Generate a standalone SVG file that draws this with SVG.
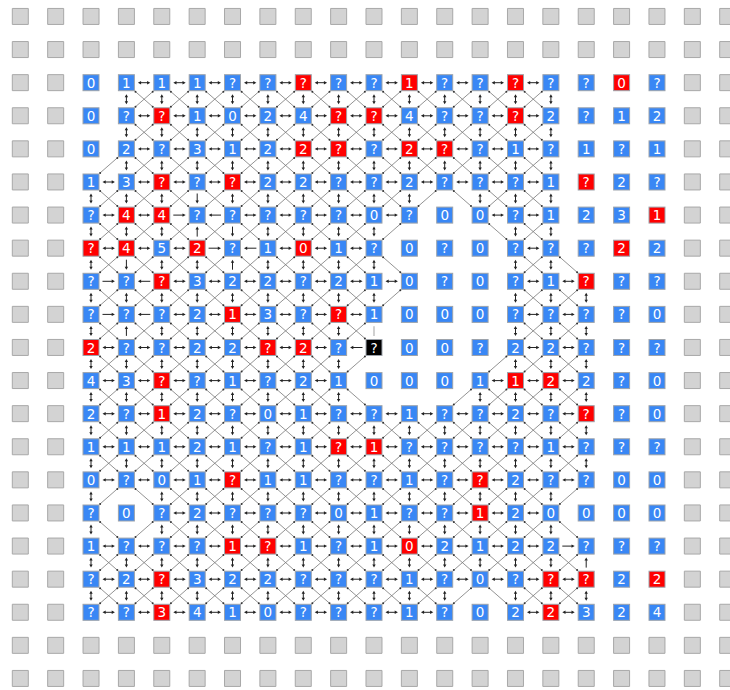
<svg xmlns="http://www.w3.org/2000/svg" xmlns:xlink="http://www.w3.org/1999/xlink" width="730" height="690" viewBox="0 0 730 690">
<style>
.gb{fill:#d3d3d3;stroke:#a8a8a8;stroke-width:1}
#nodes use{fill:#3987f5;stroke:#9da3ab;stroke-width:1}
#nodes .r use{fill:#ff0000}
#nodes .k use{fill:#000000}
text{font-family:"DejaVu Sans","Liberation Sans",sans-serif;font-size:13.5px;fill:#ffffff;text-anchor:middle;dominant-baseline:central}
#edges polyline{fill:none;stroke:none}
.H{marker-start:url(#mh);marker-mid:url(#mh);marker-end:url(#mh)}
.R{marker-start:url(#mr);marker-mid:url(#mr);marker-end:url(#mr)}
.L{marker-start:url(#ml);marker-mid:url(#ml);marker-end:url(#ml)}
.V{marker-start:url(#mv);marker-mid:url(#mv);marker-end:url(#mv)}
.U{marker-start:url(#mu);marker-mid:url(#mu);marker-end:url(#mu)}
.D{marker-start:url(#md);marker-mid:url(#md);marker-end:url(#md)}
.X{marker-start:url(#mx);marker-mid:url(#mx);marker-end:url(#mx)}
.B{marker-start:url(#mb);marker-mid:url(#mb);marker-end:url(#mb)}
.F{marker-start:url(#mf);marker-mid:url(#mf);marker-end:url(#mf)}
.ah{fill:#222}
.as{stroke:#222;stroke-width:1;fill:none}
.dl{stroke:#777;stroke-width:0.8;fill:none}
.dd{fill:#333}
</style>
<defs>
<rect id="bx" x="-8" y="-8" width="16" height="16"/>
<path id="grow" d="M0 0h16v16H0z m35.37 0h16v16h-16z m35.37 0h16v16h-16z m35.37 0h16v16h-16z m35.37 0h16v16h-16z m35.37 0h16v16h-16z m35.37 0h16v16h-16z m35.37 0h16v16h-16z m35.37 0h16v16h-16z m35.37 0h16v16h-16z m35.37 0h16v16h-16z m35.37 0h16v16h-16z m35.37 0h16v16h-16z m35.37 0h16v16h-16z m35.37 0h16v16h-16z m35.37 0h16v16h-16z m35.37 0h16v16h-16z m35.37 0h16v16h-16z m35.37 0h16v16h-16z m35.37 0h16v16h-16z m35.37 0h16v16h-16z"/>
<path id="gcol" d="M0 0h16v16H0z m0 33.1h16v16h-16z m0 33.1h16v16h-16z m0 33.1h16v16h-16z m0 33.1h16v16h-16z m0 33.1h16v16h-16z m0 33.1h16v16h-16z m0 33.1h16v16h-16z m0 33.1h16v16h-16z m0 33.1h16v16h-16z m0 33.1h16v16h-16z m0 33.1h16v16h-16z m0 33.1h16v16h-16z m0 33.1h16v16h-16z m0 33.1h16v16h-16z m0 33.1h16v16h-16z m0 33.1h16v16h-16z"/>
<marker id="mh" markerUnits="userSpaceOnUse" markerWidth="24" markerHeight="24" refX="12" refY="12" orient="0" overflow="visible"><g transform="translate(12 12)"><path class="as" d="M-4 0H4"/><path class="ah" d="M-6.2 0l3.2-1.7v3.4zM6.2 0l-3.2-1.7v3.4z"/></g></marker>
<marker id="mr" markerUnits="userSpaceOnUse" markerWidth="24" markerHeight="24" refX="12" refY="12" orient="0" overflow="visible"><g transform="translate(12 12)"><path class="as" d="M-6.2 0H4"/><path class="ah" d="M6.2 0l-3.2-1.7v3.4z"/></g></marker>
<marker id="ml" markerUnits="userSpaceOnUse" markerWidth="24" markerHeight="24" refX="12" refY="12" orient="0" overflow="visible"><g transform="translate(12 12)"><path class="as" d="M-4 0H6.2"/><path class="ah" d="M-6.2 0l3.2-1.7v3.4z"/></g></marker>
<marker id="mv" markerUnits="userSpaceOnUse" markerWidth="24" markerHeight="24" refX="12" refY="12" orient="0" overflow="visible"><g transform="translate(12 12)"><path class="as" d="M0-3V3"/><path class="ah" d="M0-5l-1.7 3h3.4zM0 5l-1.7-3h3.4z"/></g></marker>
<marker id="mu" markerUnits="userSpaceOnUse" markerWidth="24" markerHeight="24" refX="12" refY="12" orient="0" overflow="visible"><g transform="translate(12 12)"><path class="as" d="M0-3V5"/><path class="ah" d="M0-5l-1.7 3h3.4z"/></g></marker>
<marker id="md" markerUnits="userSpaceOnUse" markerWidth="24" markerHeight="24" refX="12" refY="12" orient="0" overflow="visible"><g transform="translate(12 12)"><path class="as" d="M0-5V3"/><path class="ah" d="M0 5l-1.7-3h3.4z"/></g></marker>
<marker id="mx" markerUnits="userSpaceOnUse" markerWidth="24" markerHeight="24" refX="12" refY="12" orient="0" overflow="visible"><g transform="translate(12 12)"><path class="dl" d="M-9.2-8.05L9.2 8.05M9.2-8.05L-9.2 8.05"/><circle class="dd" cx="-8.6" cy="-7.5" r="1"/><circle class="dd" cx="8.6" cy="7.5" r="1"/><circle class="dd" cx="8.6" cy="-7.5" r="1"/><circle class="dd" cx="-8.6" cy="7.5" r="1"/></g></marker>
<marker id="mb" markerUnits="userSpaceOnUse" markerWidth="24" markerHeight="24" refX="12" refY="12" orient="0" overflow="visible"><g transform="translate(12 12)"><path class="dl" d="M-9.2-8.05L9.2 8.05"/><circle class="dd" cx="-8.6" cy="-7.5" r="1"/><circle class="dd" cx="8.6" cy="7.5" r="1"/></g></marker>
<marker id="mf" markerUnits="userSpaceOnUse" markerWidth="24" markerHeight="24" refX="12" refY="12" orient="0" overflow="visible"><g transform="translate(12 12)"><path class="dl" d="M9.2-8.05L-9.2 8.05"/><circle class="dd" cx="8.6" cy="-7.5" r="1"/><circle class="dd" cx="-8.6" cy="7.5" r="1"/></g></marker>
</defs>
<rect width="730" height="690" fill="#ffffff"/>
<g id="border" class="gb">
<use href="#grow" x="12.3" y="8.45"/>
<use href="#grow" x="12.3" y="41.55"/>
<use href="#grow" x="12.3" y="637.35"/>
<use href="#grow" x="12.3" y="670.45"/>
<use href="#gcol" x="12.3" y="74.65"/>
<use href="#gcol" x="47.67" y="74.65"/>
<use href="#gcol" x="684.33" y="74.65"/>
<use href="#gcol" x="719.7" y="74.65"/>
</g>
<g id="edges">
<polyline class="H" transform="translate(0 82.7)" points="144.1,0 179.5,0 214.8,0 250.2,0 285.6,0 320.9,0 356.3,0 391.7,0 427.1,0 462.4,0 497.8,0 533.2,0"/>
<polyline class="H" transform="translate(0 115.8)" points="144.1,0 179.5,0 214.8,0 250.2,0 285.6,0 320.9,0 356.3,0 391.7,0 427.1,0 462.4,0 497.8,0 533.2,0"/>
<polyline class="H" transform="translate(0 148.9)" points="144.1,0 179.5,0 214.8,0 250.2,0 285.6,0 320.9,0 356.3,0 391.7,0 427.1,0 462.4,0 497.8,0 533.2,0"/>
<polyline class="H" transform="translate(0 182)" points="108.7,0 144.1,0 179.5,0 214.8,0 250.2,0 285.6,0 320.9,0 356.3,0 391.7,0 427.1,0 462.4,0 497.8,0 533.2,0"/>
<polyline class="H" transform="translate(0 215.1)" points="108.7,0 144.1,0 250.2,0 285.6,0 320.9,0 356.3,0 391.7,0 497.8,0 533.2,0"/>
<polyline class="H" transform="translate(0 248.2)" points="108.7,0 144.1,0 179.5,0 285.6,0 320.9,0 356.3,0 533.2,0"/>
<polyline class="H" transform="translate(0 281.3)" points="179.5,0 214.8,0 250.2,0 285.6,0 320.9,0 356.3,0 391.7,0 533.2,0 568.5,0"/>
<polyline class="H" transform="translate(0 314.4)" points="179.5,0 214.8,0 250.2,0 285.6,0 320.9,0 356.3,0 533.2,0 568.5,0"/>
<polyline class="H" transform="translate(0 347.5)" points="108.7,0 144.1,0 179.5,0 214.8,0 250.2,0 285.6,0 320.9,0 533.2,0 568.5,0"/>
<polyline class="H" transform="translate(0 380.6)" points="108.7,0 144.1,0 179.5,0 214.8,0 250.2,0 285.6,0 320.9,0 497.8,0 533.2,0 568.5,0"/>
<polyline class="H" transform="translate(0 413.7)" points="108.7,0 144.1,0 179.5,0 214.8,0 250.2,0 285.6,0 320.9,0 356.3,0 391.7,0 427.1,0 462.4,0 497.8,0 533.2,0 568.5,0"/>
<polyline class="H" transform="translate(0 446.8)" points="108.7,0 144.1,0 179.5,0 214.8,0 250.2,0 285.6,0 320.9,0 356.3,0 391.7,0 427.1,0 462.4,0 497.8,0 533.2,0 568.5,0"/>
<polyline class="H" transform="translate(0 479.9)" points="108.7,0 144.1,0 179.5,0 214.8,0 250.2,0 285.6,0 320.9,0 356.3,0 391.7,0 427.1,0 462.4,0 497.8,0 533.2,0 568.5,0"/>
<polyline class="H" transform="translate(0 513)" points="179.5,0 214.8,0 250.2,0 285.6,0 320.9,0 356.3,0 391.7,0 427.1,0 462.4,0 497.8,0 533.2,0"/>
<polyline class="H" transform="translate(0 546.1)" points="108.7,0 144.1,0 179.5,0 214.8,0 250.2,0 285.6,0 320.9,0 356.3,0 391.7,0 427.1,0 462.4,0 497.8,0 533.2,0"/>
<polyline class="H" transform="translate(0 579.2)" points="108.7,0 144.1,0 179.5,0 214.8,0 250.2,0 285.6,0 320.9,0 356.3,0 391.7,0 427.1,0 462.4,0 497.8,0 533.2,0 568.5,0"/>
<polyline class="H" transform="translate(0 612.3)" points="108.7,0 144.1,0 179.5,0 214.8,0 250.2,0 285.6,0 320.9,0 356.3,0 391.7,0 427.1,0 533.2,0 568.5,0"/>
<polyline class="R" points="179.5,215.1 214.8,248.2 108.7,281.3 108.7,314.4 568.5,546.1"/>
<polyline class="L" points="214.8,215.1 250.2,248.2 144.1,281.3 144.1,314.4 356.3,347.5"/>
<polyline class="V" transform="translate(0 99.2)" points="126.4,0 161.8,0 197.2,0 232.5,0 267.9,0 303.3,0 338.6,0 374,0 409.4,0 444.7,0 480.1,0 515.5,0 550.9,0"/>
<polyline class="V" transform="translate(0 132.3)" points="126.4,0 161.8,0 197.2,0 232.5,0 267.9,0 303.3,0 338.6,0 374,0 409.4,0 444.7,0 480.1,0 515.5,0 550.9,0"/>
<polyline class="V" transform="translate(0 165.4)" points="126.4,0 161.8,0 197.2,0 232.5,0 267.9,0 303.3,0 338.6,0 374,0 409.4,0 444.7,0 480.1,0 515.5,0 550.9,0"/>
<polyline class="V" transform="translate(0 198.5)" points="91,0 126.4,0 161.8,0 232.5,0 267.9,0 303.3,0 338.6,0 374,0 409.4,0 480.1,0 515.5,0 550.9,0"/>
<polyline class="V" transform="translate(0 231.6)" points="91,0 126.4,0 161.8,0 267.9,0 303.3,0 338.6,0 374,0 515.5,0 550.9,0"/>
<polyline class="V" transform="translate(0 264.7)" points="91,0 161.8,0 197.2,0 267.9,0 303.3,0 338.6,0 374,0 515.5,0 550.9,0"/>
<polyline class="V" transform="translate(0 297.8)" points="91,0 126.4,0 161.8,0 197.2,0 232.5,0 267.9,0 303.3,0 338.6,0 374,0 515.5,0 550.9,0 586.2,0"/>
<polyline class="V" transform="translate(0 330.9)" points="91,0 161.8,0 197.2,0 232.5,0 267.9,0 303.3,0 338.6,0 515.5,0 550.9,0 586.2,0"/>
<polyline class="V" transform="translate(0 364)" points="91,0 126.4,0 161.8,0 197.2,0 232.5,0 267.9,0 303.3,0 338.6,0 515.5,0 550.9,0 586.2,0"/>
<polyline class="V" transform="translate(0 397.1)" points="91,0 126.4,0 161.8,0 197.2,0 232.5,0 267.9,0 303.3,0 338.6,0 480.1,0 515.5,0 550.9,0 586.2,0"/>
<polyline class="V" transform="translate(0 430.2)" points="91,0 126.4,0 161.8,0 197.2,0 232.5,0 267.9,0 303.3,0 338.6,0 374,0 409.4,0 444.7,0 480.1,0 515.5,0 550.9,0 586.2,0"/>
<polyline class="V" transform="translate(0 463.3)" points="91,0 126.4,0 161.8,0 197.2,0 232.5,0 267.9,0 303.3,0 338.6,0 374,0 409.4,0 444.7,0 480.1,0 515.5,0 550.9,0 586.2,0"/>
<polyline class="V" transform="translate(0 496.4)" points="91,0 161.8,0 197.2,0 232.5,0 267.9,0 303.3,0 338.6,0 374,0 409.4,0 444.7,0 480.1,0 515.5,0 550.9,0"/>
<polyline class="V" transform="translate(0 529.5)" points="91,0 161.8,0 197.2,0 232.5,0 267.9,0 303.3,0 338.6,0 374,0 409.4,0 444.7,0 480.1,0 515.5,0 550.9,0"/>
<polyline class="V" transform="translate(0 562.6)" points="91,0 126.4,0 161.8,0 197.2,0 232.5,0 267.9,0 303.3,0 338.6,0 374,0 409.4,0 444.7,0 480.1,0 515.5,0 550.9,0"/>
<polyline class="V" transform="translate(0 595.7)" points="91,0 126.4,0 161.8,0 197.2,0 232.5,0 267.9,0 303.3,0 338.6,0 374,0 409.4,0 444.7,0 515.5,0 550.9,0 586.2,0"/>
<polyline class="D" points="197.2,198.5 232.5,231.6 126.4,264.7"/>
<polyline class="U" points="197.2,231.6 232.5,264.7 126.4,330.9 586.2,562.6"/>
<path d="M374 326.2V336" stroke="#bdbdbd" stroke-width="1.4" fill="none"/>
<polyline class="X" transform="translate(0 99.2)" points="144.1,0 179.5,0 214.8,0 250.2,0 285.6,0 320.9,0 356.3,0 391.7,0 427.1,0 462.4,0 497.8,0 533.2,0"/>
<polyline class="X" transform="translate(0 132.3)" points="144.1,0 179.5,0 214.8,0 250.2,0 285.6,0 320.9,0 356.3,0 391.7,0 427.1,0 462.4,0 497.8,0 533.2,0"/>
<polyline class="X" transform="translate(0 165.4)" points="144.1,0 179.5,0 214.8,0 250.2,0 285.6,0 320.9,0 356.3,0 391.7,0 427.1,0 462.4,0 497.8,0 533.2,0"/>
<polyline class="X" transform="translate(0 198.5)" points="108.7,0 144.1,0 179.5,0 214.8,0 250.2,0 285.6,0 320.9,0 356.3,0 391.7,0 497.8,0 533.2,0"/>
<polyline class="X" transform="translate(0 231.6)" points="108.7,0 144.1,0 179.5,0 214.8,0 250.2,0 285.6,0 320.9,0 356.3,0 533.2,0"/>
<polyline class="X" transform="translate(0 264.7)" points="108.7,0 144.1,0 179.5,0 214.8,0 250.2,0 285.6,0 320.9,0 356.3,0 533.2,0"/>
<polyline class="X" transform="translate(0 297.8)" points="108.7,0 144.1,0 179.5,0 214.8,0 250.2,0 285.6,0 320.9,0 356.3,0 533.2,0 568.5,0"/>
<polyline class="X" transform="translate(0 330.9)" points="108.7,0 144.1,0 179.5,0 214.8,0 250.2,0 285.6,0 320.9,0 356.3,0 533.2,0 568.5,0"/>
<polyline class="X" transform="translate(0 364)" points="108.7,0 144.1,0 179.5,0 214.8,0 250.2,0 285.6,0 320.9,0 533.2,0 568.5,0"/>
<polyline class="X" transform="translate(0 397.1)" points="108.7,0 144.1,0 179.5,0 214.8,0 250.2,0 285.6,0 320.9,0 497.8,0 533.2,0 568.5,0"/>
<polyline class="X" transform="translate(0 430.2)" points="108.7,0 144.1,0 179.5,0 214.8,0 250.2,0 285.6,0 320.9,0 356.3,0 391.7,0 427.1,0 462.4,0 497.8,0 533.2,0 568.5,0"/>
<polyline class="X" transform="translate(0 463.3)" points="108.7,0 144.1,0 179.5,0 214.8,0 250.2,0 285.6,0 320.9,0 356.3,0 391.7,0 427.1,0 462.4,0 497.8,0 533.2,0 568.5,0"/>
<polyline class="X" transform="translate(0 496.4)" points="179.5,0 214.8,0 250.2,0 285.6,0 320.9,0 356.3,0 391.7,0 427.1,0 462.4,0 497.8,0 533.2,0"/>
<polyline class="X" transform="translate(0 529.5)" points="179.5,0 214.8,0 250.2,0 285.6,0 320.9,0 356.3,0 391.7,0 427.1,0 462.4,0 497.8,0 533.2,0"/>
<polyline class="X" transform="translate(0 562.6)" points="108.7,0 144.1,0 179.5,0 214.8,0 250.2,0 285.6,0 320.9,0 356.3,0 391.7,0 427.1,0 462.4,0 497.8,0 533.2,0 568.5,0"/>
<polyline class="X" transform="translate(0 595.7)" points="108.7,0 144.1,0 179.5,0 214.8,0 250.2,0 285.6,0 320.9,0 356.3,0 391.7,0 427.1,0 533.2,0 568.5,0"/>
<polyline class="B" points="462.4,198.5 497.8,231.6 391.7,264.7 568.5,264.7 356.3,397.1 144.1,496.4 108.7,529.5 568.5,529.5 497.8,595.7"/>
<polyline class="F" points="108.7,165.4 427.1,198.5 391.7,231.6 391.7,297.8 356.3,364 497.8,364 462.4,397.1 108.7,496.4 568.5,496.4 144.1,529.5 462.4,595.7"/>
</g>
<g id="nodes">
<g id="row2" transform="translate(0 82.7)">
<g id="n2-2" transform="translate(91)"><use href="#bx"/><text>0</text></g>
<g id="n2-3" transform="translate(126.4)"><use href="#bx"/><text>1</text></g>
<g id="n2-4" transform="translate(161.8)"><use href="#bx"/><text>1</text></g>
<g id="n2-5" transform="translate(197.2)"><use href="#bx"/><text>1</text></g>
<g id="n2-6" transform="translate(232.5)"><use href="#bx"/><text>?</text></g>
<g id="n2-7" transform="translate(267.9)"><use href="#bx"/><text>?</text></g>
<g id="n2-8" class="r" transform="translate(303.3)"><use href="#bx"/><text>?</text></g>
<g id="n2-9" transform="translate(338.6)"><use href="#bx"/><text>?</text></g>
<g id="n2-10" transform="translate(374)"><use href="#bx"/><text>?</text></g>
<g id="n2-11" class="r" transform="translate(409.4)"><use href="#bx"/><text>1</text></g>
<g id="n2-12" transform="translate(444.7)"><use href="#bx"/><text>?</text></g>
<g id="n2-13" transform="translate(480.1)"><use href="#bx"/><text>?</text></g>
<g id="n2-14" class="r" transform="translate(515.5)"><use href="#bx"/><text>?</text></g>
<g id="n2-15" transform="translate(550.9)"><use href="#bx"/><text>?</text></g>
<g id="n2-16" transform="translate(586.2)"><use href="#bx"/><text>?</text></g>
<g id="n2-17" class="r" transform="translate(621.6)"><use href="#bx"/><text>0</text></g>
<g id="n2-18" transform="translate(657)"><use href="#bx"/><text>?</text></g>
</g>
<g id="row3" transform="translate(0 115.8)">
<g id="n3-2" transform="translate(91)"><use href="#bx"/><text>0</text></g>
<g id="n3-3" transform="translate(126.4)"><use href="#bx"/><text>?</text></g>
<g id="n3-4" class="r" transform="translate(161.8)"><use href="#bx"/><text>?</text></g>
<g id="n3-5" transform="translate(197.2)"><use href="#bx"/><text>1</text></g>
<g id="n3-6" transform="translate(232.5)"><use href="#bx"/><text>0</text></g>
<g id="n3-7" transform="translate(267.9)"><use href="#bx"/><text>2</text></g>
<g id="n3-8" transform="translate(303.3)"><use href="#bx"/><text>4</text></g>
<g id="n3-9" class="r" transform="translate(338.6)"><use href="#bx"/><text>?</text></g>
<g id="n3-10" class="r" transform="translate(374)"><use href="#bx"/><text>?</text></g>
<g id="n3-11" transform="translate(409.4)"><use href="#bx"/><text>4</text></g>
<g id="n3-12" transform="translate(444.7)"><use href="#bx"/><text>?</text></g>
<g id="n3-13" transform="translate(480.1)"><use href="#bx"/><text>?</text></g>
<g id="n3-14" class="r" transform="translate(515.5)"><use href="#bx"/><text>?</text></g>
<g id="n3-15" transform="translate(550.9)"><use href="#bx"/><text>2</text></g>
<g id="n3-16" transform="translate(586.2)"><use href="#bx"/><text>?</text></g>
<g id="n3-17" transform="translate(621.6)"><use href="#bx"/><text>1</text></g>
<g id="n3-18" transform="translate(657)"><use href="#bx"/><text>2</text></g>
</g>
<g id="row4" transform="translate(0 148.9)">
<g id="n4-2" transform="translate(91)"><use href="#bx"/><text>0</text></g>
<g id="n4-3" transform="translate(126.4)"><use href="#bx"/><text>2</text></g>
<g id="n4-4" transform="translate(161.8)"><use href="#bx"/><text>?</text></g>
<g id="n4-5" transform="translate(197.2)"><use href="#bx"/><text>3</text></g>
<g id="n4-6" transform="translate(232.5)"><use href="#bx"/><text>1</text></g>
<g id="n4-7" transform="translate(267.9)"><use href="#bx"/><text>2</text></g>
<g id="n4-8" class="r" transform="translate(303.3)"><use href="#bx"/><text>2</text></g>
<g id="n4-9" class="r" transform="translate(338.6)"><use href="#bx"/><text>?</text></g>
<g id="n4-10" transform="translate(374)"><use href="#bx"/><text>?</text></g>
<g id="n4-11" class="r" transform="translate(409.4)"><use href="#bx"/><text>2</text></g>
<g id="n4-12" class="r" transform="translate(444.7)"><use href="#bx"/><text>?</text></g>
<g id="n4-13" transform="translate(480.1)"><use href="#bx"/><text>?</text></g>
<g id="n4-14" transform="translate(515.5)"><use href="#bx"/><text>1</text></g>
<g id="n4-15" transform="translate(550.9)"><use href="#bx"/><text>?</text></g>
<g id="n4-16" transform="translate(586.2)"><use href="#bx"/><text>1</text></g>
<g id="n4-17" transform="translate(621.6)"><use href="#bx"/><text>?</text></g>
<g id="n4-18" transform="translate(657)"><use href="#bx"/><text>1</text></g>
</g>
<g id="row5" transform="translate(0 182)">
<g id="n5-2" transform="translate(91)"><use href="#bx"/><text>1</text></g>
<g id="n5-3" transform="translate(126.4)"><use href="#bx"/><text>3</text></g>
<g id="n5-4" class="r" transform="translate(161.8)"><use href="#bx"/><text>?</text></g>
<g id="n5-5" transform="translate(197.2)"><use href="#bx"/><text>?</text></g>
<g id="n5-6" class="r" transform="translate(232.5)"><use href="#bx"/><text>?</text></g>
<g id="n5-7" transform="translate(267.9)"><use href="#bx"/><text>2</text></g>
<g id="n5-8" transform="translate(303.3)"><use href="#bx"/><text>2</text></g>
<g id="n5-9" transform="translate(338.6)"><use href="#bx"/><text>?</text></g>
<g id="n5-10" transform="translate(374)"><use href="#bx"/><text>?</text></g>
<g id="n5-11" transform="translate(409.4)"><use href="#bx"/><text>2</text></g>
<g id="n5-12" transform="translate(444.7)"><use href="#bx"/><text>?</text></g>
<g id="n5-13" transform="translate(480.1)"><use href="#bx"/><text>?</text></g>
<g id="n5-14" transform="translate(515.5)"><use href="#bx"/><text>?</text></g>
<g id="n5-15" transform="translate(550.9)"><use href="#bx"/><text>1</text></g>
<g id="n5-16" class="r" transform="translate(586.2)"><use href="#bx"/><text>?</text></g>
<g id="n5-17" transform="translate(621.6)"><use href="#bx"/><text>2</text></g>
<g id="n5-18" transform="translate(657)"><use href="#bx"/><text>?</text></g>
</g>
<g id="row6" transform="translate(0 215.1)">
<g id="n6-2" transform="translate(91)"><use href="#bx"/><text>?</text></g>
<g id="n6-3" class="r" transform="translate(126.4)"><use href="#bx"/><text>4</text></g>
<g id="n6-4" class="r" transform="translate(161.8)"><use href="#bx"/><text>4</text></g>
<g id="n6-5" transform="translate(197.2)"><use href="#bx"/><text>?</text></g>
<g id="n6-6" transform="translate(232.5)"><use href="#bx"/><text>?</text></g>
<g id="n6-7" transform="translate(267.9)"><use href="#bx"/><text>?</text></g>
<g id="n6-8" transform="translate(303.3)"><use href="#bx"/><text>?</text></g>
<g id="n6-9" transform="translate(338.6)"><use href="#bx"/><text>?</text></g>
<g id="n6-10" transform="translate(374)"><use href="#bx"/><text>0</text></g>
<g id="n6-11" transform="translate(409.4)"><use href="#bx"/><text>?</text></g>
<g id="n6-12" transform="translate(444.7)"><use href="#bx"/><text>0</text></g>
<g id="n6-13" transform="translate(480.1)"><use href="#bx"/><text>0</text></g>
<g id="n6-14" transform="translate(515.5)"><use href="#bx"/><text>?</text></g>
<g id="n6-15" transform="translate(550.9)"><use href="#bx"/><text>1</text></g>
<g id="n6-16" transform="translate(586.2)"><use href="#bx"/><text>2</text></g>
<g id="n6-17" transform="translate(621.6)"><use href="#bx"/><text>3</text></g>
<g id="n6-18" class="r" transform="translate(657)"><use href="#bx"/><text>1</text></g>
</g>
<g id="row7" transform="translate(0 248.2)">
<g id="n7-2" class="r" transform="translate(91)"><use href="#bx"/><text>?</text></g>
<g id="n7-3" class="r" transform="translate(126.4)"><use href="#bx"/><text>4</text></g>
<g id="n7-4" transform="translate(161.8)"><use href="#bx"/><text>5</text></g>
<g id="n7-5" class="r" transform="translate(197.2)"><use href="#bx"/><text>2</text></g>
<g id="n7-6" transform="translate(232.5)"><use href="#bx"/><text>?</text></g>
<g id="n7-7" transform="translate(267.9)"><use href="#bx"/><text>1</text></g>
<g id="n7-8" class="r" transform="translate(303.3)"><use href="#bx"/><text>0</text></g>
<g id="n7-9" transform="translate(338.6)"><use href="#bx"/><text>1</text></g>
<g id="n7-10" transform="translate(374)"><use href="#bx"/><text>?</text></g>
<g id="n7-11" transform="translate(409.4)"><use href="#bx"/><text>0</text></g>
<g id="n7-12" transform="translate(444.7)"><use href="#bx"/><text>?</text></g>
<g id="n7-13" transform="translate(480.1)"><use href="#bx"/><text>0</text></g>
<g id="n7-14" transform="translate(515.5)"><use href="#bx"/><text>?</text></g>
<g id="n7-15" transform="translate(550.9)"><use href="#bx"/><text>?</text></g>
<g id="n7-16" transform="translate(586.2)"><use href="#bx"/><text>?</text></g>
<g id="n7-17" class="r" transform="translate(621.6)"><use href="#bx"/><text>2</text></g>
<g id="n7-18" transform="translate(657)"><use href="#bx"/><text>2</text></g>
</g>
<g id="row8" transform="translate(0 281.3)">
<g id="n8-2" transform="translate(91)"><use href="#bx"/><text>?</text></g>
<g id="n8-3" transform="translate(126.4)"><use href="#bx"/><text>?</text></g>
<g id="n8-4" class="r" transform="translate(161.8)"><use href="#bx"/><text>?</text></g>
<g id="n8-5" transform="translate(197.2)"><use href="#bx"/><text>3</text></g>
<g id="n8-6" transform="translate(232.5)"><use href="#bx"/><text>2</text></g>
<g id="n8-7" transform="translate(267.9)"><use href="#bx"/><text>2</text></g>
<g id="n8-8" transform="translate(303.3)"><use href="#bx"/><text>?</text></g>
<g id="n8-9" transform="translate(338.6)"><use href="#bx"/><text>2</text></g>
<g id="n8-10" transform="translate(374)"><use href="#bx"/><text>1</text></g>
<g id="n8-11" transform="translate(409.4)"><use href="#bx"/><text>0</text></g>
<g id="n8-12" transform="translate(444.7)"><use href="#bx"/><text>?</text></g>
<g id="n8-13" transform="translate(480.1)"><use href="#bx"/><text>0</text></g>
<g id="n8-14" transform="translate(515.5)"><use href="#bx"/><text>?</text></g>
<g id="n8-15" transform="translate(550.9)"><use href="#bx"/><text>1</text></g>
<g id="n8-16" class="r" transform="translate(586.2)"><use href="#bx"/><text>?</text></g>
<g id="n8-17" transform="translate(621.6)"><use href="#bx"/><text>?</text></g>
<g id="n8-18" transform="translate(657)"><use href="#bx"/><text>?</text></g>
</g>
<g id="row9" transform="translate(0 314.4)">
<g id="n9-2" transform="translate(91)"><use href="#bx"/><text>?</text></g>
<g id="n9-3" transform="translate(126.4)"><use href="#bx"/><text>?</text></g>
<g id="n9-4" transform="translate(161.8)"><use href="#bx"/><text>?</text></g>
<g id="n9-5" transform="translate(197.2)"><use href="#bx"/><text>2</text></g>
<g id="n9-6" class="r" transform="translate(232.5)"><use href="#bx"/><text>1</text></g>
<g id="n9-7" transform="translate(267.9)"><use href="#bx"/><text>3</text></g>
<g id="n9-8" transform="translate(303.3)"><use href="#bx"/><text>?</text></g>
<g id="n9-9" class="r" transform="translate(338.6)"><use href="#bx"/><text>?</text></g>
<g id="n9-10" transform="translate(374)"><use href="#bx"/><text>1</text></g>
<g id="n9-11" transform="translate(409.4)"><use href="#bx"/><text>0</text></g>
<g id="n9-12" transform="translate(444.7)"><use href="#bx"/><text>0</text></g>
<g id="n9-13" transform="translate(480.1)"><use href="#bx"/><text>0</text></g>
<g id="n9-14" transform="translate(515.5)"><use href="#bx"/><text>?</text></g>
<g id="n9-15" transform="translate(550.9)"><use href="#bx"/><text>?</text></g>
<g id="n9-16" transform="translate(586.2)"><use href="#bx"/><text>?</text></g>
<g id="n9-17" transform="translate(621.6)"><use href="#bx"/><text>?</text></g>
<g id="n9-18" transform="translate(657)"><use href="#bx"/><text>0</text></g>
</g>
<g id="row10" transform="translate(0 347.5)">
<g id="n10-2" class="r" transform="translate(91)"><use href="#bx"/><text>2</text></g>
<g id="n10-3" transform="translate(126.4)"><use href="#bx"/><text>?</text></g>
<g id="n10-4" transform="translate(161.8)"><use href="#bx"/><text>?</text></g>
<g id="n10-5" transform="translate(197.2)"><use href="#bx"/><text>2</text></g>
<g id="n10-6" transform="translate(232.5)"><use href="#bx"/><text>2</text></g>
<g id="n10-7" class="r" transform="translate(267.9)"><use href="#bx"/><text>?</text></g>
<g id="n10-8" class="r" transform="translate(303.3)"><use href="#bx"/><text>2</text></g>
<g id="n10-9" transform="translate(338.6)"><use href="#bx"/><text>?</text></g>
<g id="n10-10" class="k" transform="translate(374)"><use href="#bx"/><text>?</text></g>
<g id="n10-11" transform="translate(409.4)"><use href="#bx"/><text>0</text></g>
<g id="n10-12" transform="translate(444.7)"><use href="#bx"/><text>0</text></g>
<g id="n10-13" transform="translate(480.1)"><use href="#bx"/><text>?</text></g>
<g id="n10-14" transform="translate(515.5)"><use href="#bx"/><text>2</text></g>
<g id="n10-15" transform="translate(550.9)"><use href="#bx"/><text>2</text></g>
<g id="n10-16" transform="translate(586.2)"><use href="#bx"/><text>?</text></g>
<g id="n10-17" transform="translate(621.6)"><use href="#bx"/><text>?</text></g>
<g id="n10-18" transform="translate(657)"><use href="#bx"/><text>?</text></g>
</g>
<g id="row11" transform="translate(0 380.6)">
<g id="n11-2" transform="translate(91)"><use href="#bx"/><text>4</text></g>
<g id="n11-3" transform="translate(126.4)"><use href="#bx"/><text>3</text></g>
<g id="n11-4" class="r" transform="translate(161.8)"><use href="#bx"/><text>?</text></g>
<g id="n11-5" transform="translate(197.2)"><use href="#bx"/><text>?</text></g>
<g id="n11-6" transform="translate(232.5)"><use href="#bx"/><text>1</text></g>
<g id="n11-7" transform="translate(267.9)"><use href="#bx"/><text>?</text></g>
<g id="n11-8" transform="translate(303.3)"><use href="#bx"/><text>2</text></g>
<g id="n11-9" transform="translate(338.6)"><use href="#bx"/><text>1</text></g>
<g id="n11-10" transform="translate(374)"><use href="#bx"/><text>0</text></g>
<g id="n11-11" transform="translate(409.4)"><use href="#bx"/><text>0</text></g>
<g id="n11-12" transform="translate(444.7)"><use href="#bx"/><text>0</text></g>
<g id="n11-13" transform="translate(480.1)"><use href="#bx"/><text>1</text></g>
<g id="n11-14" class="r" transform="translate(515.5)"><use href="#bx"/><text>1</text></g>
<g id="n11-15" class="r" transform="translate(550.9)"><use href="#bx"/><text>2</text></g>
<g id="n11-16" transform="translate(586.2)"><use href="#bx"/><text>2</text></g>
<g id="n11-17" transform="translate(621.6)"><use href="#bx"/><text>?</text></g>
<g id="n11-18" transform="translate(657)"><use href="#bx"/><text>0</text></g>
</g>
<g id="row12" transform="translate(0 413.7)">
<g id="n12-2" transform="translate(91)"><use href="#bx"/><text>2</text></g>
<g id="n12-3" transform="translate(126.4)"><use href="#bx"/><text>?</text></g>
<g id="n12-4" class="r" transform="translate(161.8)"><use href="#bx"/><text>1</text></g>
<g id="n12-5" transform="translate(197.2)"><use href="#bx"/><text>2</text></g>
<g id="n12-6" transform="translate(232.5)"><use href="#bx"/><text>?</text></g>
<g id="n12-7" transform="translate(267.9)"><use href="#bx"/><text>0</text></g>
<g id="n12-8" transform="translate(303.3)"><use href="#bx"/><text>1</text></g>
<g id="n12-9" transform="translate(338.6)"><use href="#bx"/><text>?</text></g>
<g id="n12-10" transform="translate(374)"><use href="#bx"/><text>?</text></g>
<g id="n12-11" transform="translate(409.4)"><use href="#bx"/><text>1</text></g>
<g id="n12-12" transform="translate(444.7)"><use href="#bx"/><text>?</text></g>
<g id="n12-13" transform="translate(480.1)"><use href="#bx"/><text>?</text></g>
<g id="n12-14" transform="translate(515.5)"><use href="#bx"/><text>2</text></g>
<g id="n12-15" transform="translate(550.9)"><use href="#bx"/><text>?</text></g>
<g id="n12-16" class="r" transform="translate(586.2)"><use href="#bx"/><text>?</text></g>
<g id="n12-17" transform="translate(621.6)"><use href="#bx"/><text>?</text></g>
<g id="n12-18" transform="translate(657)"><use href="#bx"/><text>0</text></g>
</g>
<g id="row13" transform="translate(0 446.8)">
<g id="n13-2" transform="translate(91)"><use href="#bx"/><text>1</text></g>
<g id="n13-3" transform="translate(126.4)"><use href="#bx"/><text>1</text></g>
<g id="n13-4" transform="translate(161.8)"><use href="#bx"/><text>1</text></g>
<g id="n13-5" transform="translate(197.2)"><use href="#bx"/><text>2</text></g>
<g id="n13-6" transform="translate(232.5)"><use href="#bx"/><text>1</text></g>
<g id="n13-7" transform="translate(267.9)"><use href="#bx"/><text>?</text></g>
<g id="n13-8" transform="translate(303.3)"><use href="#bx"/><text>1</text></g>
<g id="n13-9" class="r" transform="translate(338.6)"><use href="#bx"/><text>?</text></g>
<g id="n13-10" class="r" transform="translate(374)"><use href="#bx"/><text>1</text></g>
<g id="n13-11" transform="translate(409.4)"><use href="#bx"/><text>?</text></g>
<g id="n13-12" transform="translate(444.7)"><use href="#bx"/><text>?</text></g>
<g id="n13-13" transform="translate(480.1)"><use href="#bx"/><text>?</text></g>
<g id="n13-14" transform="translate(515.5)"><use href="#bx"/><text>?</text></g>
<g id="n13-15" transform="translate(550.9)"><use href="#bx"/><text>1</text></g>
<g id="n13-16" transform="translate(586.2)"><use href="#bx"/><text>?</text></g>
<g id="n13-17" transform="translate(621.6)"><use href="#bx"/><text>?</text></g>
<g id="n13-18" transform="translate(657)"><use href="#bx"/><text>?</text></g>
</g>
<g id="row14" transform="translate(0 479.9)">
<g id="n14-2" transform="translate(91)"><use href="#bx"/><text>0</text></g>
<g id="n14-3" transform="translate(126.4)"><use href="#bx"/><text>?</text></g>
<g id="n14-4" transform="translate(161.8)"><use href="#bx"/><text>0</text></g>
<g id="n14-5" transform="translate(197.2)"><use href="#bx"/><text>1</text></g>
<g id="n14-6" class="r" transform="translate(232.5)"><use href="#bx"/><text>?</text></g>
<g id="n14-7" transform="translate(267.9)"><use href="#bx"/><text>1</text></g>
<g id="n14-8" transform="translate(303.3)"><use href="#bx"/><text>1</text></g>
<g id="n14-9" transform="translate(338.6)"><use href="#bx"/><text>?</text></g>
<g id="n14-10" transform="translate(374)"><use href="#bx"/><text>?</text></g>
<g id="n14-11" transform="translate(409.4)"><use href="#bx"/><text>1</text></g>
<g id="n14-12" transform="translate(444.7)"><use href="#bx"/><text>?</text></g>
<g id="n14-13" class="r" transform="translate(480.1)"><use href="#bx"/><text>?</text></g>
<g id="n14-14" transform="translate(515.5)"><use href="#bx"/><text>2</text></g>
<g id="n14-15" transform="translate(550.9)"><use href="#bx"/><text>?</text></g>
<g id="n14-16" transform="translate(586.2)"><use href="#bx"/><text>?</text></g>
<g id="n14-17" transform="translate(621.6)"><use href="#bx"/><text>0</text></g>
<g id="n14-18" transform="translate(657)"><use href="#bx"/><text>0</text></g>
</g>
<g id="row15" transform="translate(0 513)">
<g id="n15-2" transform="translate(91)"><use href="#bx"/><text>?</text></g>
<g id="n15-3" transform="translate(126.4)"><use href="#bx"/><text>0</text></g>
<g id="n15-4" transform="translate(161.8)"><use href="#bx"/><text>?</text></g>
<g id="n15-5" transform="translate(197.2)"><use href="#bx"/><text>2</text></g>
<g id="n15-6" transform="translate(232.5)"><use href="#bx"/><text>?</text></g>
<g id="n15-7" transform="translate(267.9)"><use href="#bx"/><text>?</text></g>
<g id="n15-8" transform="translate(303.3)"><use href="#bx"/><text>?</text></g>
<g id="n15-9" transform="translate(338.6)"><use href="#bx"/><text>0</text></g>
<g id="n15-10" transform="translate(374)"><use href="#bx"/><text>1</text></g>
<g id="n15-11" transform="translate(409.4)"><use href="#bx"/><text>?</text></g>
<g id="n15-12" transform="translate(444.7)"><use href="#bx"/><text>?</text></g>
<g id="n15-13" class="r" transform="translate(480.1)"><use href="#bx"/><text>1</text></g>
<g id="n15-14" transform="translate(515.5)"><use href="#bx"/><text>2</text></g>
<g id="n15-15" transform="translate(550.9)"><use href="#bx"/><text>0</text></g>
<g id="n15-16" transform="translate(586.2)"><use href="#bx"/><text>0</text></g>
<g id="n15-17" transform="translate(621.6)"><use href="#bx"/><text>0</text></g>
<g id="n15-18" transform="translate(657)"><use href="#bx"/><text>0</text></g>
</g>
<g id="row16" transform="translate(0 546.1)">
<g id="n16-2" transform="translate(91)"><use href="#bx"/><text>1</text></g>
<g id="n16-3" transform="translate(126.4)"><use href="#bx"/><text>?</text></g>
<g id="n16-4" transform="translate(161.8)"><use href="#bx"/><text>?</text></g>
<g id="n16-5" transform="translate(197.2)"><use href="#bx"/><text>?</text></g>
<g id="n16-6" class="r" transform="translate(232.5)"><use href="#bx"/><text>1</text></g>
<g id="n16-7" class="r" transform="translate(267.9)"><use href="#bx"/><text>?</text></g>
<g id="n16-8" transform="translate(303.3)"><use href="#bx"/><text>1</text></g>
<g id="n16-9" transform="translate(338.6)"><use href="#bx"/><text>?</text></g>
<g id="n16-10" transform="translate(374)"><use href="#bx"/><text>1</text></g>
<g id="n16-11" class="r" transform="translate(409.4)"><use href="#bx"/><text>0</text></g>
<g id="n16-12" transform="translate(444.7)"><use href="#bx"/><text>2</text></g>
<g id="n16-13" transform="translate(480.1)"><use href="#bx"/><text>1</text></g>
<g id="n16-14" transform="translate(515.5)"><use href="#bx"/><text>2</text></g>
<g id="n16-15" transform="translate(550.9)"><use href="#bx"/><text>2</text></g>
<g id="n16-16" transform="translate(586.2)"><use href="#bx"/><text>?</text></g>
<g id="n16-17" transform="translate(621.6)"><use href="#bx"/><text>?</text></g>
<g id="n16-18" transform="translate(657)"><use href="#bx"/><text>?</text></g>
</g>
<g id="row17" transform="translate(0 579.2)">
<g id="n17-2" transform="translate(91)"><use href="#bx"/><text>?</text></g>
<g id="n17-3" transform="translate(126.4)"><use href="#bx"/><text>2</text></g>
<g id="n17-4" class="r" transform="translate(161.8)"><use href="#bx"/><text>?</text></g>
<g id="n17-5" transform="translate(197.2)"><use href="#bx"/><text>3</text></g>
<g id="n17-6" transform="translate(232.5)"><use href="#bx"/><text>2</text></g>
<g id="n17-7" transform="translate(267.9)"><use href="#bx"/><text>2</text></g>
<g id="n17-8" transform="translate(303.3)"><use href="#bx"/><text>?</text></g>
<g id="n17-9" transform="translate(338.6)"><use href="#bx"/><text>?</text></g>
<g id="n17-10" transform="translate(374)"><use href="#bx"/><text>?</text></g>
<g id="n17-11" transform="translate(409.4)"><use href="#bx"/><text>1</text></g>
<g id="n17-12" transform="translate(444.7)"><use href="#bx"/><text>?</text></g>
<g id="n17-13" transform="translate(480.1)"><use href="#bx"/><text>0</text></g>
<g id="n17-14" transform="translate(515.5)"><use href="#bx"/><text>?</text></g>
<g id="n17-15" class="r" transform="translate(550.9)"><use href="#bx"/><text>?</text></g>
<g id="n17-16" class="r" transform="translate(586.2)"><use href="#bx"/><text>?</text></g>
<g id="n17-17" transform="translate(621.6)"><use href="#bx"/><text>2</text></g>
<g id="n17-18" class="r" transform="translate(657)"><use href="#bx"/><text>2</text></g>
</g>
<g id="row18" transform="translate(0 612.3)">
<g id="n18-2" transform="translate(91)"><use href="#bx"/><text>?</text></g>
<g id="n18-3" transform="translate(126.4)"><use href="#bx"/><text>?</text></g>
<g id="n18-4" class="r" transform="translate(161.8)"><use href="#bx"/><text>3</text></g>
<g id="n18-5" transform="translate(197.2)"><use href="#bx"/><text>4</text></g>
<g id="n18-6" transform="translate(232.5)"><use href="#bx"/><text>1</text></g>
<g id="n18-7" transform="translate(267.9)"><use href="#bx"/><text>0</text></g>
<g id="n18-8" transform="translate(303.3)"><use href="#bx"/><text>?</text></g>
<g id="n18-9" transform="translate(338.6)"><use href="#bx"/><text>?</text></g>
<g id="n18-10" transform="translate(374)"><use href="#bx"/><text>?</text></g>
<g id="n18-11" transform="translate(409.4)"><use href="#bx"/><text>1</text></g>
<g id="n18-12" transform="translate(444.7)"><use href="#bx"/><text>?</text></g>
<g id="n18-13" transform="translate(480.1)"><use href="#bx"/><text>0</text></g>
<g id="n18-14" transform="translate(515.5)"><use href="#bx"/><text>2</text></g>
<g id="n18-15" class="r" transform="translate(550.9)"><use href="#bx"/><text>2</text></g>
<g id="n18-16" transform="translate(586.2)"><use href="#bx"/><text>3</text></g>
<g id="n18-17" transform="translate(621.6)"><use href="#bx"/><text>2</text></g>
<g id="n18-18" transform="translate(657)"><use href="#bx"/><text>4</text></g>
</g>
</g>
</svg>
